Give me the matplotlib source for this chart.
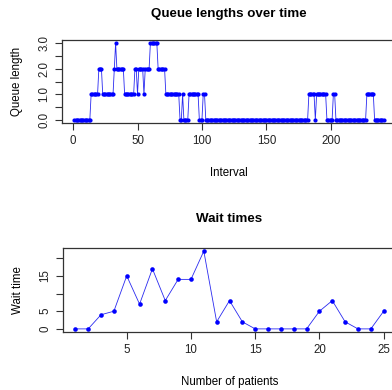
import numpy as np
import matplotlib
matplotlib.use("Agg")
import matplotlib.pyplot as plt

plt.rcParams['font.family'] = ['Liberation Sans', 'DejaVu Sans']

# queue length per interval, written as (value, run length)
queue_runs = [(0, 13), (1, 6), (2, 3), (1, 9), (2, 1), (3, 1), (2, 6), (1, 8),
              (2, 2), (1, 1), (2, 4), (1, 1), (2, 4), (3, 6), (2, 6), (1, 11),
              (0, 2), (1, 1), (0, 4), (1, 8), (0, 3), (1, 2), (0, 80), (1, 5),
              (0, 1), (1, 8), (0, 5), (1, 2), (0, 24), (1, 6), (0, 8)]
queue = []
for v, n in queue_runs:
    queue += [v] * n
interval = np.arange(1, len(queue) + 1)

patients = np.arange(1, 26)
wait = [0, 0, 4, 5, 15, 7, 17, 8, 14, 14, 22, 2, 8, 2, 0, 0, 0, 0, 0, 5, 8, 2, 0, 0, 5]


def r_lim(lo, hi):
    d = (hi - lo) * 0.04
    return lo - d, hi + d


def style(ax):
    for s in ax.spines.values():
        s.set_color('#333333')
        s.set_linewidth(0.9)
    ax.tick_params(direction='out', length=5, width=0.8, colors='#333333',
                   labelsize=8.3, labelcolor='#222222')


fig = plt.figure(figsize=(3.92, 3.90), dpi=100)

# top panel
ax1 = fig.add_axes([62 / 392, 1 - 123 / 390, 334 / 392, 83 / 390])
ax1.plot(interval, queue, color='#2a2af0', lw=0.6, marker='o', markersize=3,
         markeredgewidth=0, markerfacecolor='blue')
ax1.set_xlim(r_lim(interval[0], interval[-1]))
ax1.set_ylim(r_lim(0, 3))
ax1.set_xticks([0, 50, 100, 150, 200])
ax1.set_yticks(np.arange(0, 3.01, 0.5))
ax1.set_yticklabels(['0.0', '', '1.0', '', '2.0', '', '3.0'], rotation=90, va='center')
style(ax1)
ax1.set_xlabel('Interval', fontsize=8.3, labelpad=14.5)
ax1.set_ylabel('Queue length', fontsize=8.3, labelpad=11)
fig.text(229 / 392, 1 - 14 / 390, 'Queue lengths over time', ha='center', va='center',
         fontsize=9.6, fontweight='bold')

# bottom panel
ax2 = fig.add_axes([63 / 392, 1 - 332 / 390, 333 / 392, 84 / 390])
ax2.plot(patients, wait, color='#2a2af0', lw=0.6, marker='o', markersize=3.3,
         markeredgewidth=0, markerfacecolor='blue')
ax2.set_xlim(r_lim(1, 25))
ax2.set_ylim(r_lim(0, 22))
ax2.set_xticks([5, 10, 15, 20, 25])
ax2.set_yticks([0, 5, 10, 15, 20])
ax2.set_yticklabels(['0', '5', '', '15', ''], rotation=90, va='center')
style(ax2)
ax2.set_xlabel('Number of patients', fontsize=8.3, labelpad=14.5)
ax2.set_ylabel('Wait time', fontsize=8.3, labelpad=11)
fig.text(229 / 392, 1 - 219 / 390, 'Wait times', ha='center', va='center',
         fontsize=9.6, fontweight='bold')

fig.savefig('out.png', dpi=100)
